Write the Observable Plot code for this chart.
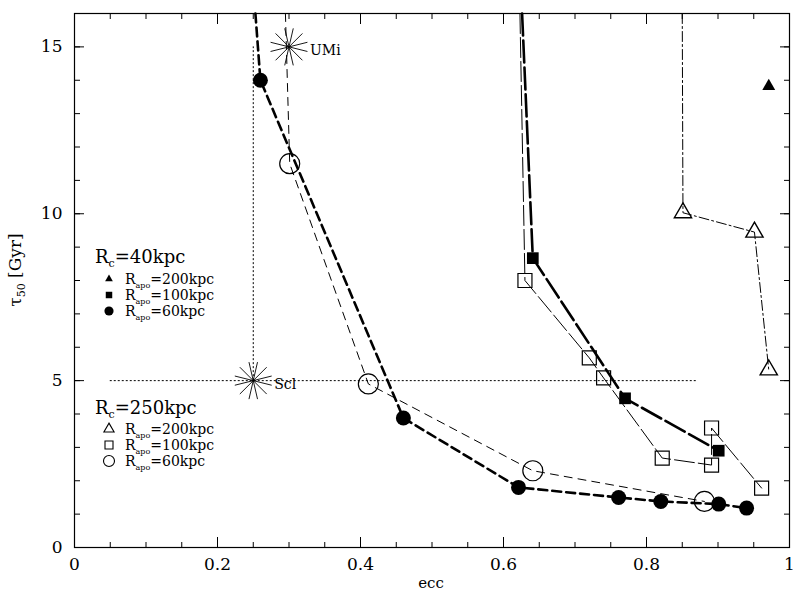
<!DOCTYPE html>
<html><head><meta charset="utf-8">
<script src="https://cdn.jsdelivr.net/npm/d3@7"></script>
<script src="https://cdn.jsdelivr.net/npm/@observablehq/plot@0.6"></script>
<style>body{margin:0;background:#fff} #chart{position:relative;width:806px;height:602px}</style>
</head><body><div id="chart"></div>
<script>
// Rc=40kpc, Rapo=60kpc (filled circles)
const c40a60Ecc = [0.260, 0.460, 0.621, 0.761, 0.820, 0.901, 0.940];
const c40a60Tau = [14.0, 3.88, 1.80, 1.50, 1.38, 1.30, 1.18];
const c40a60Top = 0.253;   // ecc where the curve leaves the top of the frame
// Rc=40kpc, Rapo=100kpc (filled squares)
const c40a100Ecc = [0.641, 0.770, 0.901];
const c40a100Tau = [8.67, 4.47, 2.90];
const c40a100Top = 0.626;
// Rc=40kpc, Rapo=200kpc (filled triangle)
const c40a200Ecc = [0.971];
const c40a200Tau = [13.82];
// Rc=250kpc, Rapo=60kpc (open circles)
const c250a60Ecc = [0.301, 0.411, 0.641, 0.881];
const c250a60Tau = [11.5, 4.90, 2.30, 1.38];
const c250a60Top = 0.295;
// Rc=250kpc, Rapo=100kpc (open squares)
const c250a100Ecc = [0.630, 0.720, 0.740, 0.822, 0.891, 0.891, 0.961];
const c250a100Tau = [8.0, 5.68, 5.08, 2.68, 2.47, 3.58, 1.78];
const c250a100Top = 0.623;
// Rc=250kpc, Rapo=200kpc (open triangles)
const c250a200Ecc = [0.851, 0.951, 0.971];
const c250a200Tau = [10.03, 9.45, 5.32];
const c250a200Top = 0.850;
// observed dwarfs
const dwarfNames = ["UMi", "Scl"];
const dwarfEcc = [0.30, 0.25];
const dwarfTau = [15.0, 5.0];
// dotted reference lines
const refVx = 0.25, refVy = [5, 15];
const refHy = 5, refHx = [0.05, 0.87];
// axes
const xDomain = [0, 1], yDomain = [0, 16];
const xMajor = [0, 0.2, 0.4, 0.6, 0.8, 1];
const xTickLabels = ["0", "0.2", "0.4", "0.6", "0.8", "1"];
const xMinor = [0,0.05,0.1,0.15,0.2,0.25,0.3,0.35,0.4,0.45,0.5,0.55,0.6,0.65,0.7,0.75,0.8,0.85,0.9,0.95,1];
const yMajor = [0, 5, 10, 15];
const yTickLabels = ["0", "5", "10", "15"];
const yMinor = [0,1,2,3,4,5,6,7,8,9,10,11,12,13,14,15,16];

const pts = (e, t) => e.map((v, i) => ({ecc: v, tau: t[i]}));
const withTop = (top, e, t) => [{ecc: top, tau: yDomain[1]}, ...pts(e, t)];
const dwarfs = dwarfNames.map((n, i) => ({name: n, ecc: dwarfEcc[i], tau: dwarfTau[i]}));

const asterisk = {draw(ctx, size) {
  const r = Math.sqrt(size / Math.PI);
  for (const a of [14, 45, 77, 103, 135, 166]) {
    const t = a * Math.PI / 180;
    ctx.moveTo(-r * Math.cos(t), -r * Math.sin(t));
    ctx.lineTo(r * Math.cos(t), r * Math.sin(t));
  }
}};

const FONT = "DejaVu Serif";
const xy = {x: "ecc", y: "tau"};

const svg = Plot.plot({
  width: 806, height: 602,
  marginLeft: 74, marginRight: 17, marginTop: 13, marginBottom: 55,
  style: {fontFamily: FONT, background: "white", color: "black"},
  x: {domain: xDomain},
  y: {domain: yDomain},
  marks: [
    // inward ticks
    Plot.axisX({ticks: xMinor, tickSize: -5, fill: "none", label: null}),
    Plot.axisX({ticks: xMajor, tickSize: -10, fill: "none", label: null}),
    Plot.axisX({anchor: "top", ticks: xMinor, tickSize: -5, fill: "none", label: null}),
    Plot.axisX({anchor: "top", ticks: xMajor, tickSize: -10, fill: "none", label: null}),
    Plot.axisY({ticks: yMinor, tickSize: -6, fill: "none", label: null}),
    Plot.axisY({ticks: yMajor, tickSize: -10, fill: "none", label: null}),
    Plot.axisY({anchor: "right", ticks: yMinor, tickSize: -6, fill: "none", label: null}),
    Plot.axisY({anchor: "right", ticks: yMajor, tickSize: -10, fill: "none", label: null}),
    // tick labels
    Plot.axisX({ticks: xMajor, tickSize: 0, tickPadding: 10, fontSize: 17, label: null,
      tickFormat: d => xTickLabels[xMajor.indexOf(d)]}),
    Plot.axisY({ticks: yMajor, tickSize: 0, tickPadding: 12, fontSize: 17, label: null,
      tickFormat: d => yTickLabels[yMajor.indexOf(d)]}),
    Plot.frame({stroke: "black", strokeWidth: 1.2}),
    // dotted reference lines
    Plot.ruleX([refVx], {y1: refVy[0], y2: refVy[1], stroke: "black", strokeWidth: 1, strokeDasharray: "2,2"}),
    Plot.ruleY([refHy], {x1: refHx[0], x2: refHx[1], stroke: "black", strokeWidth: 1, strokeDasharray: "2,2"}),
    // model curves
    Plot.line(withTop(c250a60Top, c250a60Ecc, c250a60Tau), {...xy, stroke: "black", strokeWidth: 1, strokeDasharray: "8,6"}),
    Plot.line(withTop(c250a100Top, c250a100Ecc, c250a100Tau), {...xy, stroke: "black", strokeWidth: 1, strokeDasharray: "20,4"}),
    Plot.line(withTop(c250a200Top, c250a200Ecc, c250a200Tau), {...xy, stroke: "black", strokeWidth: 1, strokeDasharray: "10,3,2,3"}),
    Plot.line(withTop(c40a60Top, c40a60Ecc, c40a60Tau), {...xy, stroke: "black", strokeWidth: 2.6, strokeDasharray: "9,5"}),
    Plot.line(withTop(c40a100Top, c40a100Ecc, c40a100Tau), {...xy, stroke: "black", strokeWidth: 2.6, strokeDasharray: "22,5"}),
    // markers
    Plot.dot(pts(c40a60Ecc, c40a60Tau), {...xy, symbol: "circle", r: 7.5, fill: "black", stroke: "none"}),
    Plot.dot(pts(c40a100Ecc, c40a100Tau), {...xy, symbol: "square", r: 6.6, fill: "black", stroke: "none"}),
    Plot.dot(pts(c40a200Ecc, c40a200Tau), {...xy, symbol: "triangle", r: 4.8, fill: "black", stroke: "none"}),
    Plot.dot(pts(c250a60Ecc, c250a60Tau), {...xy, symbol: "circle", r: 10, fill: "none", stroke: "black", strokeWidth: 1.2}),
    Plot.dot(pts(c250a100Ecc, c250a100Tau), {...xy, symbol: "square", r: 7.9, fill: "none", stroke: "black", strokeWidth: 1.2}),
    Plot.dot(pts(c250a200Ecc, c250a200Tau), {...xy, symbol: "triangle", r: 6.4, fill: "none", stroke: "black", strokeWidth: 1.4}),
    // observed dwarfs
    Plot.dot(dwarfs, {...xy, symbol: asterisk, r: 19, fill: "none", stroke: "black", strokeWidth: 0.9}),
    Plot.text(dwarfs, {...xy, text: "name", dx: 21, dy: 4, textAnchor: "start", fontSize: 14, fill: "black"})
  ]
});
document.getElementById("chart").appendChild(svg);

// axis titles and legend
const s = d3.select(svg);
s.append("text").attr("x", 431).attr("y", 588).attr("text-anchor", "middle")
  .attr("font-family", FONT).attr("font-size", 15).text("ecc");
const yl = s.append("text").attr("transform", "translate(21,270) rotate(-90)")
  .attr("text-anchor", "middle").attr("font-family", FONT).attr("font-size", 17);
yl.append("tspan").text("τ");
yl.append("tspan").attr("font-size", 11).attr("dy", 4).text("50");
yl.append("tspan").attr("dy", -4).text(" [Gyr]");

function header(x, y, sub) {
  const t = s.append("text").attr("x", x).attr("y", y).attr("text-anchor", "start")
    .attr("font-family", FONT).attr("font-size", 18);
  t.append("tspan").text("R");
  t.append("tspan").attr("font-size", 11).attr("dy", 4).text("c");
  t.append("tspan").attr("dy", -4).text("=" + sub);
}
function entry(x, y, sub, sym, filled, size) {
  s.append("path").attr("transform", `translate(${x},${y - 5})`)
    .attr("d", d3.symbol(sym, size)())
    .attr("fill", filled ? "black" : "none").attr("stroke", filled ? "none" : "black").attr("stroke-width", 1.1);
  const t = s.append("text").attr("x", x + 16).attr("y", y).attr("text-anchor", "start")
    .attr("font-family", FONT).attr("font-size", 14);
  t.append("tspan").text("R");
  t.append("tspan").attr("font-size", 8).attr("dy", 4).text("apo");
  t.append("tspan").attr("dy", -4).text("=" + sub);
}
header(95, 263, "40kpc");
entry(109, 284, "200kpc", d3.symbolTriangle, true, 26);
entry(109, 300, "100kpc", d3.symbolSquare, true, 42);
entry(109, 316, "60kpc", d3.symbolCircle, true, 66);
header(95, 414, "250kpc");
entry(109, 434, "200kpc", d3.symbolTriangle, false, 45);
entry(109, 450, "100kpc", d3.symbolSquare, false, 64);
entry(109, 466, "60kpc", d3.symbolCircle, false, 95);
</script>
</body></html>
